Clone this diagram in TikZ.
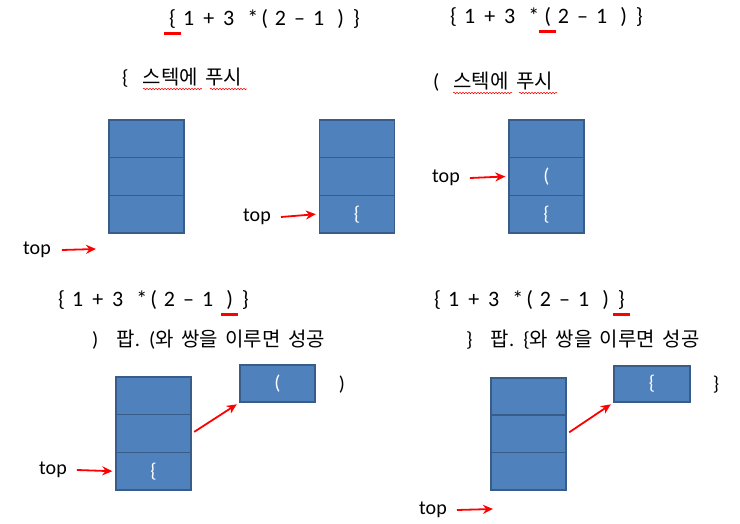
\documentclass[tikz,border=0pt]{standalone}
\usepackage{fontspec}
\setmainfont{Carlito}
\newfontfamily\kr{Noto Sans CJK KR}
\usetikzlibrary{arrows.meta,decorations.pathmorphing}
\definecolor{fillc}{HTML}{4F81BD}
\definecolor{bordc}{HTML}{385D8A}
\newcommand\redul[1]{\setbox0\hbox{#1}\rlap{\kern\dimexpr(\wd0-17pt)/2\relax\textcolor{red}{\rule[-9pt]{17pt}{2.8pt}}}#1}
\newcommand\gap[1]{\hspace*{#1pt}}
\begin{document}
\begin{tikzpicture}[x=1pt,y=-1pt,font=\fontsize{20}{24}\selectfont,
  cell/.style={draw=bordc,fill=fillc,line width=1.4pt,minimum width=75pt,minimum height=37.7pt,inner sep=0pt,text=white},
  txt/.style={anchor=west,inner sep=0pt,font=\fontsize{22}{26}\selectfont,execute at begin node={\spaceskip=9pt plus 0pt minus 0pt\relax}},
  krtxt/.style={anchor=west,inner sep=0pt,font=\fontsize{20.5}{26}\selectfont,execute at begin node={\spaceskip=7.5pt plus 0pt minus 0pt\relax}},
  redarrow/.style={red,line width=1.8pt,-{Stealth[length=10pt,width=9pt]}},
  squig/.style={red,line width=0.5pt,decorate,decoration={snake,amplitude=0.8pt,segment length=3pt}}]
\useasboundingbox (0,0) rectangle (740,524);

% top expressions
\node[txt] (e1) at (169,22) {\redul{\{}\gap{7}1 + 3\gap{13}*\gap{3}(\gap{7}2\gap{8}--\gap{8}1\gap{13}) \}};
\node[txt] (e2) at (450,20) {\{\gap{7}1 + 3\gap{13}*\gap{5}\redul{(}\gap{7}2\gap{8}--\gap{8}1\gap{13}) \}};
\node[krtxt] (p1) at (122,78) {\{\gap{14}{\kr\fontsize{20}{24}\selectfont 스텍에 푸시}};
\node[krtxt] (p2) at (433,82) {(\gap{14}{\kr\fontsize{20}{24}\selectfont 스텍에 푸시}};
\draw[squig] (143,89) -- (202,89);
\draw[squig] (210,89) -- (247,89);
\draw[squig] (453,93) -- (512,93);
\draw[squig] (519,93) -- (557,93);

% stack 1
\node[cell] (s1a) at (146.5,138.8) {};
\node[cell] (s1b) at (146.5,176.5) {};
\node[cell] (s1c) at (146.5,214.2) {};
\node[inner sep=0pt] (t1) at (37,250) {top};
\coordinate (a1) at (96,249);
\draw[redarrow] ([xshift=11pt]t1.east) -- (a1);

% stack 2
\node[cell] (s2a) at (357,138.8) {};
\node[cell] (s2b) at (357,176.5) {};
\node[cell] (s2c) at (357,214.2) {\{};
\node[inner sep=0pt] (t2) at (257,217) {top};
\draw[redarrow] ([xshift=10pt]t2.east) -- ([xshift=-3pt]s2c.west);

% stack 3
\node[cell] (s3a) at (546.5,138.8) {};
\node[cell] (s3b) at (546.5,176.5) {(};
\node[cell] (s3c) at (546.5,214.2) {\{};
\node[inner sep=0pt] (t3) at (446,178) {top};
\draw[redarrow] ([xshift=10pt]t3.east) -- ([xshift=-3pt]s3b.west);

% bottom expressions
\node[txt] (e3) at (58,303) {\{\gap{7}1 + 3\gap{13}*\gap{3}(\gap{7}2\gap{8}--\gap{8}1\gap{13}\redul{)} \}};
\node[krtxt] (l3) at (92,340) {)\gap{18}{\kr\fontsize{20}{24}\selectfont 팝}. ({\kr\fontsize{20}{24}\selectfont 와 쌍을 이루면 성공}};
\node[txt] (e4) at (434,303) {\{\gap{7}1 + 3\gap{13}*\gap{3}(\gap{7}2\gap{8}--\gap{8}1\gap{13}) \redul{\}}};
\node[krtxt] (l4) at (466,340) {\}\gap{18}{\kr\fontsize{20}{24}\selectfont 팝}. \{{\kr\fontsize{20}{24}\selectfont 와 쌍을 이루면 성공}};

% stack 4
\node[cell] (s4a) at (153.5,395.8) {};
\node[cell] (s4b) at (153.5,433.5) {};
\node[cell] (s4c) at (153.5,471.2) {\{};
\node[inner sep=0pt] (t4) at (53,470) {top};
\draw[redarrow] ([xshift=10pt]t4.east) -- ([xshift=-3pt]s4c.west);
\node[cell,minimum height=37pt] (b4) at (277.5,383.5) {(};
\node[inner sep=0pt] (c4) at (342,385) {)};
\draw[redarrow,shorten <=3pt,shorten >=3pt] (s4b.east) -- (b4.south west);

% stack 5
\node[cell] (s5a) at (528.5,396.7) {};
\node[cell] (s5b) at (528.5,434) {};
\node[cell] (s5c) at (528.5,471.3) {};
\node[inner sep=0pt] (t5) at (433,510) {top};
\coordinate (a5) at (493,509);
\draw[redarrow] ([xshift=10pt]t5.east) -- (a5);
\node[cell,minimum height=36pt,minimum width=76pt] (b5) at (652,384) {\{};
\node[inner sep=0pt] (c5) at (716,385) {\}};
\draw[redarrow,shorten <=3pt,shorten >=3pt] (s5b.east) -- (b5.south west);
\end{tikzpicture}
\end{document}
